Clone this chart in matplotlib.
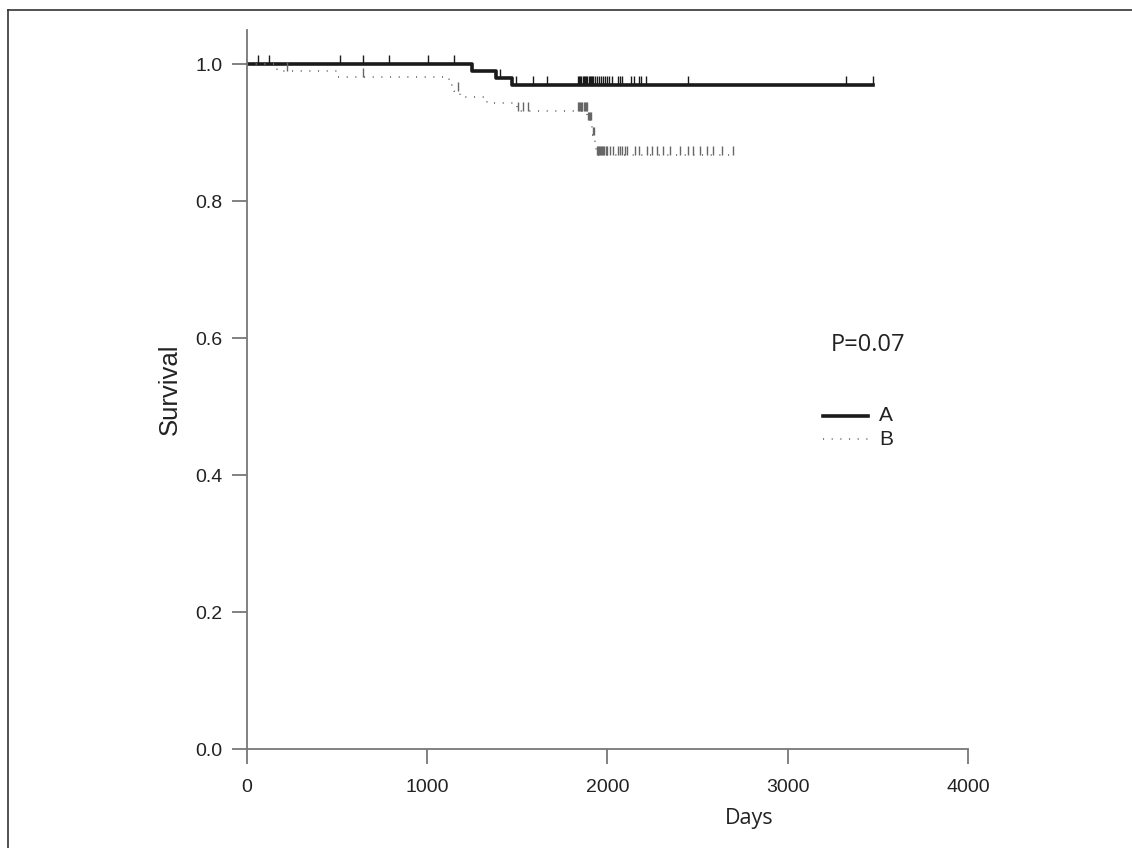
import numpy as np
import matplotlib.pyplot as plt
from matplotlib.lines import Line2D

# Kaplan-Meier step data
a_time = [0, 1248, 1381, 1470, 3475]
a_surv = [1.000, 0.990, 0.980, 0.970, 0.970]
a_cens = [63, 123, 516, 645, 790, 1006, 1149, 1404, 1492, 1589, 1666,
          1835, 1842, 1848, 1855, 1862, 1868, 1875, 1882, 1888, 1895,
          1902, 1908, 1915, 1922, 1930, 1940, 1952, 1962, 1975, 1985,
          2000, 2010, 2027, 2058, 2068, 2079, 2129, 2145, 2175, 2188,
          2213, 2449, 3321, 3475]

b_time = [0, 165, 498, 1118, 1150, 1182, 1330, 1496, 1888, 1916, 1930, 1936, 2695]
b_surv = [1.000, 0.990, 0.981, 0.970, 0.961, 0.952, 0.943, 0.932, 0.918,
          0.896, 0.886, 0.868, 0.868]
b_cens = [220, 645, 1172, 1505, 1533, 1560,
          1837, 1843, 1849, 1855, 1861, 1867, 1873, 1879, 1885,
          1892, 1898, 1904, 1910, 1922, 1927,
          1940, 1946, 1952, 1958, 1964, 1970, 1976, 1982, 1990, 2000,
          2012, 2030, 2058, 2068, 2080, 2095, 2107, 2153, 2176, 2218,
          2245, 2273, 2310, 2347, 2402, 2449, 2477, 2514, 2551, 2588,
          2634, 2695]

p_text = "P=0.07"
x_ticks = [0, 1000, 2000, 3000, 4000]
y_ticks = [0.0, 0.2, 0.4, 0.6, 0.8, 1.0]


def level(times, surv, t):
    i = np.searchsorted(times, t, side='right') - 1
    return np.array(surv)[i]


fig = plt.figure(figsize=(11.32, 8.48), dpi=100)
ax = fig.add_axes([0.2182, 0.1167, 0.6369, 0.8479])

gray = '#777777'
a_style = dict(color='#1a1a1a', lw=2.6)
b_style = dict(color='#777777', lw=1.3, dashes=[0.6, 4.2])

ax.step(a_time, a_surv, where='post', **a_style)
ax.step(b_time, b_surv, where='post', **b_style)

ya = level(a_time, a_surv, a_cens)
ax.vlines(a_cens, ya, ya + 0.013, color='#1a1a1a', lw=1.0)
yb = level(b_time, b_surv, b_cens)
ax.vlines(b_cens, yb, yb + 0.013, color='#666666', lw=1.0)

ax.set_xlim(0, 4000)
ax.set_ylim(0, 1.05)
ax.set_xticks(x_ticks)
ax.set_yticks(y_ticks)
ax.set_yticklabels([f"{v:.1f}" for v in y_ticks])
for s in ['top', 'right']:
    ax.spines[s].set_visible(False)
for s in ['left', 'bottom']:
    ax.spines[s].set_color(gray)
    ax.spines[s].set_linewidth(1.3)
ax.tick_params(direction='out', length=10.5, width=1.3, color=gray,
               labelsize=14, labelcolor='#222222', pad=7)
ax.tick_params(axis='x', pad=11)
for lab in ax.get_xticklabels() + ax.get_yticklabels():
    lab.set_family('Liberation Sans')

ax.set_ylabel('Survival', fontsize=18.5, family='Liberation Sans',
              color='#222222', labelpad=10)
ax.set_xlabel('Days', fontsize=15.5, family='Open Sans', color='#222222')
ax.xaxis.set_label_coords(0.696, -0.082)

ax.text(0.862, 0.562, p_text, transform=ax.transAxes, fontsize=17,
        family='Open Sans', color='#222222', ha='center', va='center')

# hand-placed key, as in the original figure
for name, style, yk in [('A', a_style, 0.4636), ('B', b_style, 0.431)]:
    ax.plot([0.799, 0.861], [yk, yk], transform=ax.transAxes, **style)
    ax.text(0.8766, yk, name, transform=ax.transAxes, fontsize=15,
            family='Liberation Sans', color='#222222', ha='left', va='center')

# outer frame (top and left edges)
fig.add_artist(Line2D([8 / 1132, 1], [1 - 9.5 / 848, 1 - 9.5 / 848],
                      transform=fig.transFigure, color='#333333', lw=1.2))
fig.add_artist(Line2D([8 / 1132, 8 / 1132], [0, 1 - 9.5 / 848],
                      transform=fig.transFigure, color='#333333', lw=1.2))

fig.savefig('out.png', dpi=100)
